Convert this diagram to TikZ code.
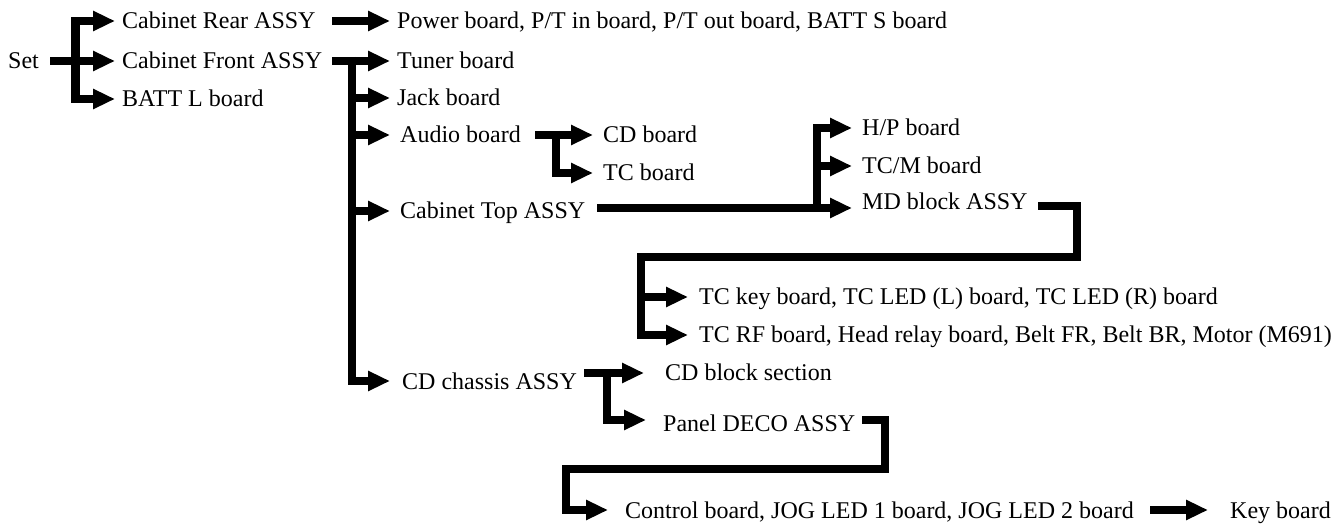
\documentclass[tikz,border=0pt]{standalone}
\usepackage{fontspec}
\setmainfont{Liberation Serif}
\usetikzlibrary{arrows.meta}
\begin{document}
\begin{tikzpicture}[x=1pt,y=-1pt,
  lbl/.style={anchor=west,inner xsep=7pt,inner ysep=0pt,font=\fontsize{24}{28}\selectfont,text height=16pt,text depth=0pt},
  arr/.style={line width=8.5pt,line join=miter,-{Triangle[length=22pt,width=19pt]}},
  arrb/.style={line width=8.5pt,line join=miter,{Triangle[length=22pt,width=19pt]}-{Triangle[length=22pt,width=19pt]}}]
\useasboundingbox (0,0) rectangle (1342,529);
% nodes
\node[lbl,inner xsep=0pt] (set) at (8,61) {Set};
\node[lbl] (crear) at (115,21) {Cabinet Rear ASSY};
\node[lbl] (cfront) at (115,61) {Cabinet Front ASSY};
\node[lbl] (battl) at (115,99) {BATT L board};
\node[lbl] (power) at (390,21) {Power board, P/T in board, P/T out board, BATT S board};
\node[lbl] (tuner) at (390,61) {Tuner board};
\node[lbl] (jack) at (390,98) {Jack board};
\node[lbl,inner xsep=10pt] (audio) at (390,135) {Audio board};
\node[lbl,inner xsep=10pt] (ctop) at (390,211) {Cabinet Top ASSY};
\node[lbl,inner xsep=12pt] (chassis) at (390,381) {CD chassis ASSY};
\node[lbl,inner xsep=10pt] (cdb) at (593,135) {CD board};
\node[lbl,inner xsep=10pt] (tcb) at (593,173) {TC board};
\node[lbl,inner xsep=10pt] (hp) at (852,128) {H/P board};
\node[lbl,inner xsep=10pt] (tcm) at (852,166) {TC/M board};
\node[lbl,inner xsep=10pt] (md) at (852,202) {MD block ASSY};
\node[lbl,inner xsep=11pt] (tckey) at (688,297) {TC key board, TC LED (L) board, TC LED (R) board};
\node[lbl,inner xsep=11pt] (tcrf) at (688,335) {TC RF board, Head relay board, Belt FR, Belt BR, Motor (M691)};
\node[lbl,inner xsep=21pt] (cdblock) at (644,373) {CD block section};
\node[lbl,inner xsep=17pt] (panel) at (646,423) {Panel DECO ASSY};
\node[lbl,inner xsep=17pt] (control) at (608,510) {Control board, JOG LED 1 board, JOG LED 2 board};
\node[lbl,inner xsep=22pt] (key) at (1208,510) {Key board};
% junction coordinates
\coordinate (s0) at (50,61);
\coordinate (sv1) at (75.5,21);
\coordinate (sv2) at (75.5,99);
\coordinate (r0) at (332,21);
\coordinate (f0) at (332,61);
\coordinate (f1) at (352,57);
\coordinate (f2) at (352,381);
\coordinate (a0) at (535,135);
\coordinate (a1) at (556,131);
\coordinate (c0) at (597,208);
\coordinate (c1) at (817,208);
\coordinate (m0) at (1038,206);
\coordinate (m1) at (1077,206);
\coordinate (m2) at (1077,257);
\coordinate (m3) at (641,257);
\coordinate (h0) at (584,373);
\coordinate (h1) at (607,369);
\coordinate (p0) at (862,420);
\coordinate (p1) at (885,420);
\coordinate (p2) at (885,469);
\coordinate (p3) at (566,469);
\coordinate (k0) at (1150,510);
% connectors
\draw[arr] (s0) -- (cfront.west);
\draw[arrb] (crear.west) -- (sv1) -- (sv2) -- (battl.west);
\draw[arr] (r0) -- (power.west);
\draw[arr] (f0) -- (tuner.west);
\draw[arr] (f1) -- (f2) -- (chassis.west);
\draw[arr] (f1 |- jack.west) -- (jack.west);
\draw[arr] (f1 |- audio.west) -- (audio.west);
\draw[arr] (f1 |- ctop.west) -- (ctop.west);
\draw[arr] (a0) -- (cdb.west);
\draw[arr] (a1) -- (a1 |- tcb.west) -- (tcb.west);
\draw[arr] (c0) -- ([yshift=-6pt]md.west);
\draw[arr] (c1) -- (c1 |- hp.west) -- (hp.west);
\draw[arr] (c1 |- tcm.west) -- (tcm.west);
\draw[arr] (m0) -- (m1) -- (m2) -- (m3) -- (m3 |- tcrf.west) -- (tcrf.west);
\draw[arr] (m3 |- tckey.west) -- (tckey.west);
\draw[arr] (h0) -- (cdblock.west);
\draw[arr] (h1) -- (h1 |- p0) -- ([yshift=3pt]panel.west);
\draw[arr] (p0) -- (p1) -- (p2) -- (p3) -- (p3 |- control.west) -- (control.west);
\draw[arr] (k0) -- (key.west);
\end{tikzpicture}
\end{document}
